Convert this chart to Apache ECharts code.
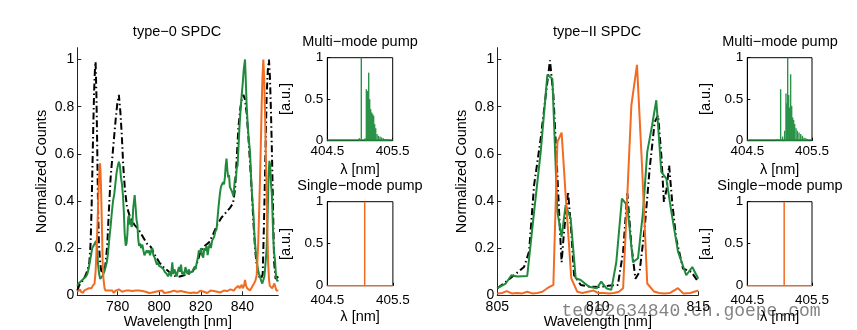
<!DOCTYPE html>
<html><head><meta charset="utf-8">
<script src="https://cdn.jsdelivr.net/npm/echarts@6/dist/echarts.min.js"></script>
<style>html,body{margin:0;padding:0;background:#fff}#c{width:857px;height:330px}</style>
</head><body><div id="c"></div><script>
// ---------- type-0 SPDC ----------
const t0BlackX = [760.6,761.4,763.0,764.6,765.6,766.4,767.0,767.5,767.9,768.3,768.7,769.1,769.4,769.8,770.2,770.6,771.0,771.5,772.0,772.6,773.2,774.0,775.0,775.8,776.6,777.4,778.2,779.0,779.8,780.6,781.3,782.0,782.7,783.5,784.5,786.0,788.0,790.0,792.0,794.0,796.0,798.0,800.0,802.0,804.0,806.0,808.0,810.0,812.0,814.0,816.0,818.0,820.0,822.0,824.0,826.0,828.0,830.0,832.0,834.0,835.5,836.5,837.3,838.1,839.0,839.7,840.5,841.3,842.1,843.0,843.8,844.6,845.4,846.2,847.0,848.0,849.0,849.8,850.4,851.0,851.7,852.3,852.8,853.3,853.8,854.3,854.8,855.3,856.0,856.6,857.3];
const t0BlackY = [0.02,0.04,0.06,0.085,0.11,0.14,0.22,0.38,0.55,0.72,0.87,0.96,0.99,0.85,0.62,0.36,0.22,0.15,0.11,0.09,0.085,0.12,0.21,0.36,0.495,0.58,0.66,0.74,0.81,0.85,0.78,0.68,0.55,0.45,0.375,0.33,0.30,0.28,0.25,0.22,0.205,0.17,0.14,0.12,0.105,0.09,0.08,0.08,0.085,0.09,0.10,0.13,0.19,0.21,0.225,0.26,0.30,0.33,0.35,0.37,0.39,0.45,0.58,0.71,0.79,0.83,0.85,0.83,0.77,0.66,0.55,0.43,0.30,0.19,0.12,0.08,0.07,0.09,0.30,0.55,0.85,0.96,1.0,0.92,0.77,0.58,0.35,0.14,0.07,0.07,0.08];

const t0GreenX = [760.6,761.2,761.8,762.4,763.0,763.6,764.2,764.8,765.4,766.0,766.6,767.2,767.8,768.4,769.0,769.6,770.1,770.6,771.1,771.6,772.1,772.6,773.1,773.6,774.2,774.8,775.4,776.0,776.6,777.2,777.8,778.4,779.0,779.5,780.1,780.6,781.1,781.6,782.1,782.6,783.0,783.4,783.9,784.3,784.7,785.1,785.5,785.9,786.3,786.7,787.1,787.5,787.9,788.2,788.6,789.1,789.5,789.9,790.3,790.8,791.3,791.9,792.4,792.9,793.5,794.0,794.6,795.1,795.6,796.2,796.7,797.2,797.8,798.3,798.9,799.4,799.9,800.5,801.0,801.5,802.1,802.6,803.1,803.7,804.2,804.7,805.2,805.7,806.3,806.8,807.3,807.9,808.4,808.9,809.5,810.0,810.5,811.0,811.6,812.1,812.6,813.2,813.7,814.2,814.8,815.3,815.8,816.4,817.0,817.5,818.0,818.6,819.1,819.6,820.1,820.6,821.2,821.7,822.2,822.8,823.3,823.8,824.4,824.9,825.4,826.0,826.5,827.0,827.6,828.1,828.6,829.2,829.7,830.2,830.7,831.2,831.6,832.0,832.4,832.8,833.2,833.6,834.0,834.5,835.0,835.4,835.7,836.1,836.5,836.9,837.3,837.7,838.1,838.6,839.1,839.7,840.2,840.7,841.3,841.7,842.1,842.6,843.1,843.7,844.2,844.7,845.3,845.8,846.4,846.9,847.5,848.0,848.5,849.1,849.6,850.1,850.6,851.1,851.7,852.2,852.6,853.0,853.4,853.8,854.2,854.6,855.0,855.4,855.7,856.2,856.8,857.3];
const t0GreenY = [0.04,0.05,0.045,0.06,0.055,0.07,0.065,0.08,0.09,0.11,0.14,0.17,0.20,0.21,0.22,0.23,0.20,0.13,0.09,0.07,0.065,0.08,0.09,0.10,0.12,0.14,0.18,0.24,0.29,0.35,0.40,0.43,0.48,0.52,0.55,0.566,0.55,0.50,0.47,0.42,0.35,0.26,0.21,0.22,0.26,0.33,0.34,0.30,0.32,0.29,0.30,0.37,0.40,0.425,0.38,0.32,0.30,0.24,0.21,0.22,0.20,0.215,0.19,0.17,0.17,0.19,0.18,0.19,0.17,0.19,0.20,0.17,0.16,0.155,0.13,0.14,0.125,0.13,0.12,0.125,0.11,0.10,0.10,0.09,0.08,0.085,0.10,0.08,0.14,0.09,0.11,0.095,0.08,0.10,0.12,0.10,0.13,0.09,0.10,0.085,0.12,0.10,0.09,0.11,0.095,0.09,0.10,0.095,0.12,0.11,0.135,0.16,0.19,0.18,0.20,0.17,0.16,0.20,0.19,0.21,0.17,0.20,0.22,0.20,0.23,0.23,0.25,0.27,0.28,0.33,0.38,0.43,0.46,0.46,0.48,0.47,0.50,0.55,0.58,0.53,0.50,0.51,0.46,0.45,0.44,0.43,0.42,0.46,0.50,0.49,0.54,0.55,0.62,0.71,0.78,0.85,0.90,0.96,1.0,0.90,0.80,0.72,0.66,0.61,0.50,0.42,0.35,0.26,0.19,0.15,0.11,0.09,0.08,0.06,0.05,0.05,0.08,0.13,0.20,0.35,0.50,0.57,0.55,0.47,0.43,0.32,0.22,0.17,0.15,0.08,0.06,0.065];

const t0OrangeX = [760.6,761.0,761.4,761.9,762.4,762.9,763.4,763.9,764.4,765.0,765.6,766.2,766.8,767.4,768.0,768.5,768.9,769.4,769.8,770.2,770.6,771.0,771.5,771.8,772.1,772.5,772.8,773.2,773.7,774.2,775.0,775.8,776.6,777.4,778.2,779.0,779.8,780.6,781.4,782.2,783.0,783.9,784.7,785.5,786.3,787.1,787.9,788.7,789.5,790.3,791.1,791.9,792.7,793.5,794.3,795.1,795.9,796.7,797.5,798.3,799.1,799.9,800.7,801.5,802.3,803.1,803.9,804.7,805.5,806.3,807.1,807.9,808.7,809.5,810.3,811.1,811.9,812.7,813.5,814.3,815.1,815.9,816.7,817.5,818.3,819.1,819.9,820.7,821.5,822.3,823.1,823.9,824.7,825.5,826.3,827.1,827.9,828.7,829.5,830.3,831.1,831.9,832.7,833.5,834.3,835.1,835.9,836.7,837.5,838.1,838.7,839.3,839.7,840.2,840.8,841.3,841.8,842.3,843.0,843.7,844.3,845.0,845.6,846.2,846.9,847.6,848.1,848.5,849.0,849.3,849.7,850.1,850.5,850.9,851.3,851.7,852.1,852.4,852.8,853.2,853.8,854.4,854.9,855.4,855.9,856.4,857.0,857.3];
const t0OrangeY = [0.015,0.02,0.01,0.025,0.015,0.02,0.01,0.02,0.015,0.025,0.02,0.03,0.025,0.03,0.04,0.04,0.05,0.10,0.18,0.27,0.38,0.49,0.56,0.52,0.425,0.27,0.14,0.07,0.03,0.02,0.012,0.02,0.015,0.02,0.01,0.02,0.015,0.025,0.02,0.015,0.01,0.02,0.015,0.02,0.012,0.018,0.01,0.02,0.015,0.02,0.012,0.018,0.01,0.015,0.02,0.01,0.015,0.012,0.02,0.015,0.01,0.018,0.012,0.02,0.01,0.015,0.012,0.02,0.015,0.01,0.02,0.012,0.015,0.01,0.018,0.012,0.015,0.01,0.012,0.02,0.01,0.015,0.012,0.018,0.01,0.015,0.02,0.012,0.015,0.02,0.01,0.015,0.02,0.012,0.018,0.01,0.015,0.02,0.012,0.015,0.02,0.025,0.018,0.02,0.025,0.03,0.02,0.03,0.025,0.04,0.03,0.035,0.045,0.03,0.04,0.065,0.04,0.03,0.025,0.02,0.03,0.035,0.05,0.06,0.085,0.21,0.36,0.495,0.68,0.805,0.93,1.0,0.92,0.78,0.60,0.425,0.25,0.14,0.07,0.04,0.035,0.03,0.04,0.05,0.035,0.02,0.015,0.02];

// ---------- type-II SPDC ----------
const t2BlackX = [805.0,805.33,805.83,806.33,806.58,806.83,807.16,807.41,807.62,807.79,807.95,808.12,808.2,808.32,808.52,808.68,808.82,809.15,809.65,810.07,810.5,811.0,811.26,811.47,811.67,811.87,812.08,812.33,812.58,812.83,813.0,813.16,813.29,813.42,813.55,813.7,813.9,814.24,814.65,815.0];
const t2BlackY = [0.03,0.05,0.085,0.12,0.185,0.467,0.665,0.848,0.996,0.848,0.58,0.27,0.14,0.27,0.44,0.27,0.085,0.044,0.036,0.035,0.04,0.044,0.185,0.432,0.213,0.07,0.10,0.283,0.537,0.735,0.763,0.594,0.396,0.45,0.55,0.396,0.24,0.113,0.10,0.056];

const t2GreenX = [805.0,805.42,805.7,805.99,806.49,806.83,807.16,807.49,807.74,807.99,808.2,808.4,808.65,808.9,809.15,809.56,809.95,810.17,810.42,810.67,810.92,811.2,811.47,811.75,812.0,812.25,812.46,812.7,812.91,813.16,813.41,813.66,813.99,814.4,814.7,815.0];
const t2GreenY = [0.03,0.05,0.085,0.08,0.082,0.354,0.608,0.935,0.918,0.354,0.248,0.382,0.325,0.072,0.065,0.036,0.03,0.058,0.03,0.023,0.14,0.41,0.38,0.14,0.157,0.354,0.608,0.72,0.827,0.523,0.495,0.354,0.185,0.085,0.12,0.07];

const t2OrangeX = [805.0,805.25,805.47,805.72,805.99,806.24,806.49,806.74,806.99,807.24,807.49,807.79,807.99,808.2,808.4,808.68,808.98,809.23,809.5,809.8,810.0,810.3,810.55,810.8,811.05,811.26,811.67,811.95,812.2,812.46,812.8,813.05,813.3,813.6,813.99,814.25,814.6,815.0];
const t2OrangeY = [0.008,0.01,0.018,0.008,0.01,0.008,0.015,0.008,0.01,0.015,0.03,0.044,0.65,0.69,0.425,0.072,0.015,0.01,0.015,0.02,0.01,0.01,0.008,0.01,0.015,0.03,0.806,0.977,0.55,0.05,0.016,0.01,0.008,0.01,0.03,0.008,0.01,0.02];

// ---------- pump spectra ----------
const mmLeftX = [404.99,405.02,405.077,405.097,405.112,405.133,405.148,405.163,405.179,405.194,405.209,405.224,405.24,405.26,405.28,405.306,405.33,405.357,405.38,405.41,405.43];
const mmLeftY = [0.03,1.0,0.03,0.62,0.60,0.82,0.50,0.38,0.34,0.32,0.30,0.20,0.15,0.08,0.06,0.05,0.04,0.03,0.02,0.02,0.02];
const mmRightX = [404.964,405.015,405.046,405.077,405.098,405.108,405.124,405.139,405.155,405.17,405.186,405.201,405.216,405.232,405.253,405.273,405.299,405.325,405.35,405.376,405.402,405.428];
const mmRightY = [0.02,0.62,0.05,0.12,0.57,0.45,1.0,0.55,0.40,0.80,0.42,0.28,0.25,0.20,0.15,0.12,0.10,0.08,0.06,0.04,0.03,0.02];
const mmFloorX = [404.5,405.5];
const mmFloorY = [0.008,0.008];
const smX = [404.5,405.07,405.07,405.07,405.5];
const smY = [0,0,1,0,0];

const pumpXTicks = [404.5,405.5];
const mainTitles = ['type\u22120 SPDC','type\u2212II SPDC'];

const zip = (xs, ys) => xs.map((x, i) => [x, ys[i]]);
const FONT = 'Liberation Sans, Arial, Helvetica, sans-serif';
const GREEN = '#1f8a3c', ORANGE = '#f26b22', BLACK = '#000';

const grids = [
  {left:77.3, top:47.7, width:201, height:247.6, show:false},
  {left:327.3, top:57.7, width:65.4, height:83, show:true, borderColor:'#000', borderWidth:1, backgroundColor:'transparent'},
  {left:327.3, top:201.7, width:65.6, height:84, show:true, borderColor:'#000', borderWidth:1, backgroundColor:'transparent'},
  {left:497.3, top:47.7, width:201, height:247.6, show:false},
  {left:747.3, top:57.7, width:64.7, height:83, show:true, borderColor:'#000', borderWidth:1, backgroundColor:'transparent'},
  {left:747.3, top:201.7, width:64.7, height:84, show:true, borderColor:'#000', borderWidth:1, backgroundColor:'transparent'}
].map(g => Object.assign({containLabel:false, outerBoundsMode:'none'}, g));

const axLine = {show:true, lineStyle:{color:'#222', width:1}};
const txt = (size) => ({color:'#000', fontSize:size, fontFamily:FONT});

function mainX(gi, min, max, opts) {
  return Object.assign({
    gridIndex:gi, type:'value', min:min, max:max,
    axisLine:axLine, axisTick:{show:true, inside:true, length:4, lineStyle:{color:'#222'}},
    axisLabel:Object.assign({margin:5}, txt(14)),
    splitLine:{show:false},
    name:'Wavelength [nm]', nameLocation:'middle', nameGap:19, nameMoveOverlap:false,
    nameTextStyle:txt(14.5)
  }, opts);
}
function pumpX(gi, margin, gap) {
  return {
    gridIndex:gi, type:'value', min:404.5, max:405.5,
    axisLine:{show:true, lineStyle:{color:'#000'}},
    axisTick:{show:true, inside:true, length:3, lineStyle:{color:'#000'}, customValues:pumpXTicks},
    axisLabel:Object.assign({margin:margin, hideOverlap:false, customValues:pumpXTicks, formatter:v => v.toFixed(1)}, txt(13.5)),
    splitLine:{show:false},
    name:'\u03bb [nm]', nameLocation:'middle', nameGap:gap, nameMoveOverlap:false, nameTextStyle:txt(14.5)
  };
}
function mainY(gi) {
  return {
    gridIndex:gi, type:'value', min:0, max:1.05, interval:0.2,
    axisLine:axLine, axisTick:{show:true, inside:true, length:4, lineStyle:{color:'#222'}},
    axisLabel:Object.assign({margin:3, showMaxLabel:false}, txt(14)),
    splitLine:{show:false},
    name:'Normalized Counts', nameLocation:'middle', nameGap:28, nameRotate:90, nameMoveOverlap:false,
    nameTextStyle:txt(14.5)
  };
}
function pumpY(gi) {
  return {
    gridIndex:gi, type:'value', min:0, max:1, interval:0.5,
    axisLine:{show:true, lineStyle:{color:'#000'}},
    axisTick:{show:true, inside:true, length:3, lineStyle:{color:'#000'}},
    axisLabel:Object.assign({margin:4}, txt(13.5)),
    splitLine:{show:false}
  };
}

const lineS = (idx, data, color, width, type, z) => ({
  type:'line', xAxisIndex:idx, yAxisIndex:idx, data:data, symbol:'none', showSymbol:false,
  lineStyle:{color:color, width:width, type:type || 'solid'}, z:z, silent:true
});
const DASHDOT = [7,3,1.5,3];

const series = [
  lineS(0, zip(t0BlackX,t0BlackY), BLACK, 2, DASHDOT, 2),
  lineS(0, zip(t0GreenX,t0GreenY), GREEN, 2, 'solid', 3),
  lineS(0, zip(t0OrangeX,t0OrangeY), ORANGE, 2, 'solid', 4),
  lineS(3, zip(t2BlackX,t2BlackY), BLACK, 2, DASHDOT, 2),
  lineS(3, zip(t2GreenX,t2GreenY), GREEN, 2, 'solid', 3),
  lineS(3, zip(t2OrangeX,t2OrangeY), ORANGE, 2, 'solid', 4),
  {type:'bar', xAxisIndex:1, yAxisIndex:1, data:zip(mmLeftX,mmLeftY), barWidth:1.4, itemStyle:{color:'#2b9349'}, silent:true},
  lineS(1, zip(mmFloorX,mmFloorY), GREEN, 1.5, 'solid', 3),
  {type:'bar', xAxisIndex:4, yAxisIndex:4, data:zip(mmRightX,mmRightY), barWidth:1.4, itemStyle:{color:'#2b9349'}, silent:true},
  lineS(4, zip(mmFloorX,mmFloorY), GREEN, 1.5, 'solid', 3),
  lineS(2, zip(smX,smY), ORANGE, 1.5, 'solid', 3),
  lineS(5, zip(smX,smY), ORANGE, 1.5, 'solid', 3)
];

const label = (x, y, text, size, extra) => ({
  type:'text', x:x, y:y, silent:true, rotation:(extra && extra.rot) || 0,
  style:Object.assign({text:text, fontSize:size, fontFamily:FONT, fill:'#000', align:'center', verticalAlign:'middle'}, (extra && extra.style) || {})
});
const ROT = {rot:Math.PI/2};

const option = {
  animation:false,
  backgroundColor:'#fff',
  grid:grids,
  xAxis:[
    mainX(0, 760.6, 857.3, {axisLabel:Object.assign({margin:5, showMinLabel:false, showMaxLabel:false}, txt(14))}),
    pumpX(1, 4, 22),
    pumpX(2, 8, 24),
    mainX(3, 805, 815, {interval:5}),
    pumpX(4, 4, 22),
    pumpX(5, 8, 24)
  ],
  yAxis:[mainY(0), pumpY(1), pumpY(2), mainY(3), pumpY(4), pumpY(5)],
  series:series,
  graphic:[
    label(177, 32, mainTitles[0], 14.5),
    label(597, 32, mainTitles[1], 14.5),
    label(360, 42, 'Multi\u2212mode pump', 14.5),
    label(780, 42, 'Multi\u2212mode pump', 14.5),
    label(360, 186, 'Single\u2212mode pump', 14.5),
    label(780, 186, 'Single\u2212mode pump', 14.5),
    label(286, 99, '[a.u.]', 14.5, ROT),
    label(286, 244, '[a.u.]', 14.5, ROT),
    label(706, 99, '[a.u.]', 14.5, ROT),
    label(706, 244, '[a.u.]', 14.5, ROT),
    label(691, 311, 'te062634840.cn.goepe.com', 18, {style:{fontFamily:'Liberation Mono, DejaVu Sans Mono, monospace', fill:'rgba(90,90,90,0.75)'}})
  ]
};

const chart = echarts.init(document.getElementById('c'), null, {renderer:'canvas'});
chart.setOption(option);
</script></body></html>
